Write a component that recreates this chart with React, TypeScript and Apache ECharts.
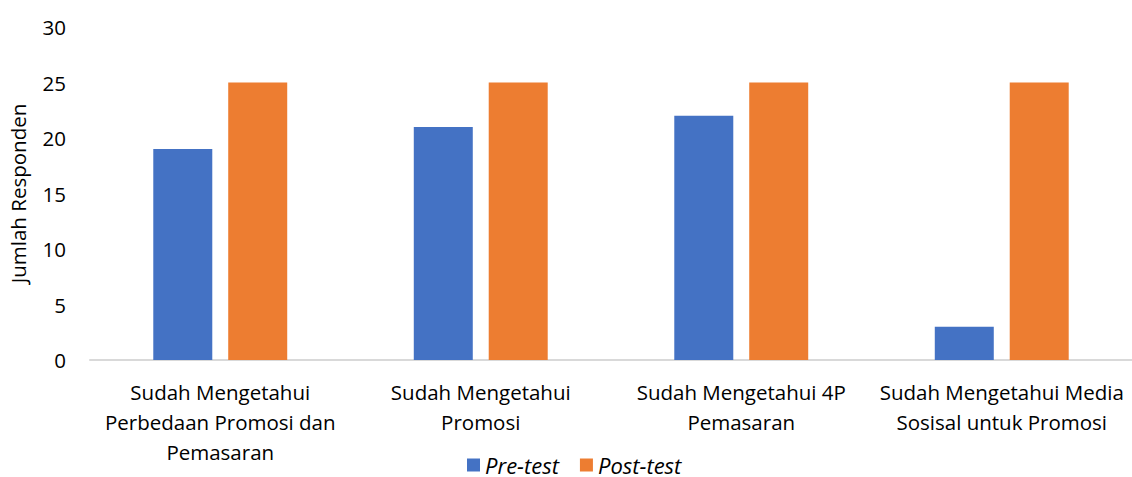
import React, { useEffect, useRef } from "react";
import * as echarts from "echarts";

const categories = [
  "Sudah Mengetahui\nPerbedaan Promosi dan\nPemasaran",
  "Sudah Mengetahui\nPromosi",
  "Sudah Mengetahui 4P\nPemasaran",
  "Sudah Mengetahui Media\nSosisal untuk Promosi",
];
const preTest = [19, 21, 22, 3];
const postTest = [25, 25, 25, 25];
const seriesNames = ["Pre-test", "Post-test"];
const yAxisName = "Jumlah Responden";

const FONT = "'Open Sans', sans-serif";

export default function App() {
  const ref = useRef<HTMLDivElement>(null);
  useEffect(() => {
    document.body.style.margin = "0";
    const chart = echarts.init(ref.current!, null, { renderer: "svg" });
    chart.setOption({
      animation: false,
      textStyle: { fontFamily: FONT },
      grid: {
        left: 90,
        right: 0,
        top: 27,
        bottom: 117,
        containLabel: false,
        outerBoundsMode: "none",
      },
      legend: {
        top: 454,
        left: 467,
        padding: 0,
        itemWidth: 13,
        itemHeight: 13,
        itemGap: 21,
        icon: "rect",
        textStyle: {
          fontFamily: FONT,
          fontSize: 22,
          lineHeight: 18,
          fontStyle: "italic",
          color: "#000",
        },
        data: seriesNames,
      },
      xAxis: {
        type: "category",
        data: categories,
        axisLine: { lineStyle: { color: "#d9d9d9", width: 2 } },
        axisTick: { show: false },
        axisLabel: {
          color: "#000",
          fontSize: 20.5,
          fontFamily: FONT,
          lineHeight: 30,
          margin: 17,
          interval: 0,
        },
      },
      yAxis: {
        type: "value",
        min: 0,
        max: 30,
        interval: 5,
        name: yAxisName,
        nameLocation: "middle",
        nameGap: 62,
        nameRotate: 90,
        nameTextStyle: { color: "#000", fontSize: 20.5, fontFamily: FONT },
        axisLine: { show: false },
        axisTick: { show: false },
        splitLine: { show: false },
        axisLabel: { color: "#000", fontSize: 20.5, fontFamily: FONT, margin: 24 },
      },
      series: [
        {
          name: seriesNames[0],
          type: "bar",
          data: preTest,
          barWidth: 59,
          barGap: "27%",
          itemStyle: { color: "#4472c4" },
        },
        {
          name: seriesNames[1],
          type: "bar",
          data: postTest,
          barWidth: 59,
          barGap: "27%",
          itemStyle: { color: "#ed7d31" },
        },
      ],
    });
    return () => chart.dispose();
  }, []);
  return <div ref={ref} style={{ width: 1132, height: 477 }} />;
}
